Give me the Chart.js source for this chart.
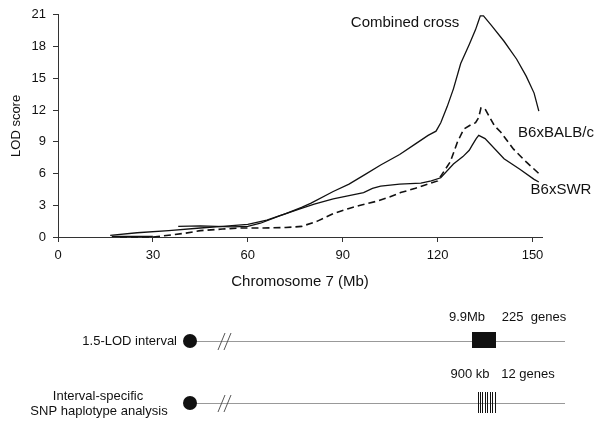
<!DOCTYPE html>
<html>
<head>
<meta charset="utf-8">
<script src="https://cdn.jsdelivr.net/npm/chart.js@4.4.1/dist/chart.umd.min.js"></script>
<style>
  body { margin: 0; background: #fff; }
  #wrap { width: 600px; height: 423px; }
</style>
</head>
<body>
<div id="wrap"><canvas id="myChart" width="600" height="423"></canvas></div>
<script>
// LOD curves along chromosome 7 (Mb)
var combinedMb  = [16.5, 25, 35, 45, 52, 60, 66, 72, 77, 80, 87, 92, 97, 102, 108, 113, 117, 119.5, 121, 123, 125, 127.3, 130, 132, 132.8, 133.5, 134.5, 137, 141, 145, 148, 150.5, 152];
var combinedLod = [0.15, 0.4, 0.6, 0.85, 1.0, 1.2, 1.6, 2.2, 2.8, 3.2, 4.3, 5.0, 5.9, 6.8, 7.8, 8.8, 9.6, 10.0, 10.8, 12.3, 14.0, 16.4, 18.2, 19.6, 20.3, 20.9, 20.9, 20.0, 18.5, 16.8, 15.2, 13.6, 11.9];

var swrMb  = [17, 24, 30, 34, 38, 45, 50, 55, 60, 64, 70, 76, 81, 87, 92, 96.6, 99.4, 102, 108, 114.7, 118, 121, 125, 128, 130, 131, 132.2, 133, 135, 141, 146, 150.5, 152];
var swrLod = [0.05, 0.05, 0.05, null, 1.0, 1.05, 1.0, 0.95, 1.0, 1.3, 2.0, 2.6, 3.1, 3.6, 3.9, 4.2, 4.6, 4.8, 5.0, 5.1, 5.3, 5.6, 6.9, 7.6, 8.2, 8.7, 9.3, 9.6, 9.3, 7.4, 6.4, 5.45, 5.2];

var balbMb  = [19.6, 30, 33, 40, 45, 52, 58, 65, 72, 77, 82, 87, 92, 95.6, 101, 105, 108.3, 113, 117, 120, 122, 124, 126.3, 128.3, 130.5, 132, 133, 133.7, 135, 138, 140, 144, 148, 152];
var balbLod = [0, 0, 0.1, 0.35, 0.6, 0.75, 0.85, 0.85, 0.9, 1.0, 1.5, 2.2, 2.7, 3.0, 3.4, 3.8, 4.2, 4.6, 5.0, 5.3, 6.2, 7.1, 9.0, 10.2, 10.6, 10.8, 11.3, 12.2, 12.1, 10.5, 9.9, 8.3, 7.1, 6.0];

var xTicks = [0, 30, 60, 90, 120, 150];
var yTicks = [0, 3, 6, 9, 12, 15, 18, 21];

function toPoints(xs, ys) {
  return xs.map(function (x, i) { return { x: x, y: ys[i] }; });
}

var FONT = "'Liberation Sans', Arial, sans-serif";

// schematic under the plot + curve labels
var extras = {
  id: 'extras',
  afterDraw: function (chart) {
    var ctx = chart.ctx;
    ctx.save();
    ctx.fillStyle = '#111';
    ctx.textBaseline = 'middle';

    // curve labels
    ctx.font = '15px ' + FONT;
    ctx.textAlign = 'center';
    ctx.fillText('Combined cross', 405, 23);
    ctx.fillText('B6xBALB/c', 556, 133);
    ctx.fillText('B6xSWR', 561, 190);

    // diagram
    ctx.font = '13px ' + FONT;
    ctx.fillText('9.9Mb', 467, 317);
    ctx.fillText('225  genes', 534, 317);
    ctx.fillText('900 kb', 470, 374);
    ctx.fillText('12 genes', 528, 374);
    ctx.fillText('Interval-specific', 98, 396);
    ctx.fillText('SNP haplotype analysis', 99, 411);
    ctx.textAlign = 'right';
    ctx.fillText('1.5-LOD interval', 177, 341);

    ctx.strokeStyle = '#999';
    ctx.lineWidth = 1;
    [341, 403].forEach(function (y) {
      ctx.beginPath();
      ctx.moveTo(189, y + 0.5);
      ctx.lineTo(565, y + 0.5);
      ctx.stroke();
      // break marks
      ctx.strokeStyle = '#555';
      ctx.beginPath();
      ctx.moveTo(218, y + 9); ctx.lineTo(225, y - 8);
      ctx.moveTo(224, y + 9); ctx.lineTo(231, y - 8);
      ctx.stroke();
      ctx.strokeStyle = '#999';
      ctx.fillStyle = '#111';
      ctx.beginPath();
      ctx.arc(190, y, 7, 0, Math.PI * 2);
      ctx.fill();
    });

    ctx.fillRect(472, 332, 24, 16);

    ctx.strokeStyle = '#111';
    [478.5, 480.5, 482.5, 485.5, 487.5, 490.5, 492.5, 495.5].forEach(function (x) {
      ctx.beginPath();
      ctx.moveTo(x, 392);
      ctx.lineTo(x, 413);
      ctx.stroke();
    });
    ctx.restore();
  }
};

new Chart("myChart", {
  type: "scatter",
  data: {
    datasets: [
      { label: 'Combined cross', data: toPoints(combinedMb, combinedLod), borderColor: '#111', borderWidth: 1.3 },
      { label: 'B6xSWR', data: toPoints(swrMb, swrLod), borderColor: '#111', borderWidth: 1.3 },
      { label: 'B6xBALB/c', data: toPoints(balbMb, balbLod), borderColor: '#111', borderWidth: 1.6, borderDash: [7, 4] }
    ]
  },
  options: {
    responsive: false,
    animation: false,
    devicePixelRatio: 1,
    showLine: true,
    spanGaps: false,
    clip: false,
    elements: { point: { radius: 0 }, line: { tension: 0 } },
    layout: { padding: { top: 10, right: 58, bottom: 130, left: 0 } },
    plugins: { legend: { display: false }, tooltip: { enabled: false } },
    scales: {
      x: {
        type: 'linear',
        min: 0,
        max: 153,
        afterBuildTicks: function (scale) { scale.ticks = xTicks.map(function (v) { return { value: v }; }); },
        afterFit: function (scale) { scale.height = 56; },
        grid: { drawOnChartArea: false, drawTicks: true, tickLength: 5, color: '#333' },
        border: { color: '#333', width: 1 },
        ticks: { color: '#111', font: { family: FONT, size: 13 }, padding: 6, maxRotation: 0 },
        title: { display: true, text: 'Chromosome 7 (Mb)', color: '#111', font: { family: FONT, size: 15 }, padding: { top: 0, bottom: 2 } }
      },
      y: {
        min: 0,
        max: 21,
        afterBuildTicks: function (scale) { scale.ticks = yTicks.map(function (v) { return { value: v }; }); },
        afterFit: function (scale) { scale.width = 58; },
        grid: { drawOnChartArea: false, drawTicks: true, tickLength: 5, color: '#333' },
        border: { color: '#333', width: 1 },
        ticks: { color: '#111', font: { family: FONT, size: 13 }, padding: 7 },
        title: { display: true, text: 'LOD score', color: '#111', font: { family: FONT, size: 13 }, padding: { top: 9, bottom: 0 } }
      }
    }
  },
  plugins: [extras]
});
</script>
</body>
</html>
